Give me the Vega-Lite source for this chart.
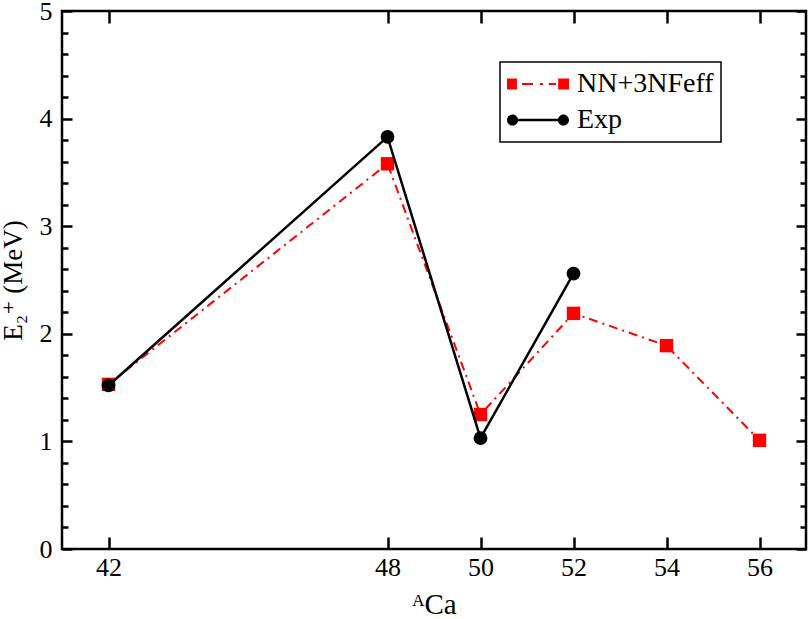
{
  "$schema": "https://vega.github.io/schema/vega-lite/v6.json",
  "width": 744,
  "height": 538,
  "autosize": {"type": "none"},
  "padding": {"left": 62, "top": 11, "right": 4, "bottom": 70},
  "background": "white",
  "config": {
    "font": "Liberation Serif, Times New Roman, DejaVu Serif, serif",
    "view": {"stroke": "black", "strokeWidth": 2.5},
    "axis": {
      "grid": false,
      "domain": false,
      "tickColor": "black",
      "tickWidth": 2.5,
      "labelColor": "black",
      "labelFont": "Liberation Serif, Times New Roman, DejaVu Serif, serif",
      "labelFontSize": 26,
      "titleFont": "Liberation Serif, Times New Roman, DejaVu Serif, serif",
      "titleFontSize": 29,
      "titleFontWeight": "normal",
      "titleColor": "black"
    }
  },
  "datasets": {
    "e2": [
      {"A": 42, "E": 1.53, "series": "NN+3NFeff"},
      {"A": 48, "E": 3.58, "series": "NN+3NFeff"},
      {"A": 50, "E": 1.25, "series": "NN+3NFeff"},
      {"A": 52, "E": 2.19, "series": "NN+3NFeff"},
      {"A": 54, "E": 1.89, "series": "NN+3NFeff"},
      {"A": 56, "E": 1.01, "series": "NN+3NFeff"},
      {"A": 42, "E": 1.52, "series": "Exp"},
      {"A": 48, "E": 3.83, "series": "Exp"},
      {"A": 50, "E": 1.03, "series": "Exp"},
      {"A": 52, "E": 2.56, "series": "Exp"}
    ]
  },
  "data": {"name": "e2"},
  "resolve": {"axis": {"x": "independent", "y": "independent"}},
  "layer": [
    {
      "transform": [{"filter": "datum.series === 'NN+3NFeff'"}],
      "mark": {"type": "line", "strokeWidth": 2, "strokeDash": [9, 5, 2, 5]},
      "encoding": {
        "x": {
          "field": "A", "type": "quantitative",
          "scale": {"domain": [41, 57], "nice": false, "zero": false},
          "axis": {"orient": "bottom", "values": [42, 48, 50, 52, 54, 56], "offset": -12, "tickSize": 12, "labelPadding": 5, "title": "ᴬCa", "titlePadding": 10}
        },
        "y": {
          "field": "E", "type": "quantitative",
          "scale": {"domain": [0, 5], "nice": false, "zero": true},
          "axis": {"orient": "left", "values": [0, 1, 2, 3, 4, 5], "offset": -10, "tickSize": 10, "labelPadding": 10, "title": "E₂⁺ (MeV)", "titleFontSize": 27, "titlePadding": 12}
        },
        "stroke": {
          "field": "series", "type": "nominal",
          "scale": {"domain": ["NN+3NFeff", "Exp"], "range": ["red", "black"]},
          "legend": {
            "orient": "none",
            "legendX": 438,
            "legendY": 51,
            "title": null,
            "strokeColor": "black",
            "fillColor": "white",
            "padding": 7,
            "symbolSize": 3844,
            "clipHeight": 30,
            "rowPadding": 6,
            "labelFont": "Liberation Serif, Times New Roman, DejaVu Serif, serif",
            "labelFontSize": 28,
            "labelColor": "black",
            "labelOffset": 8,
            "symbolStrokeWidth": 0,
            "encoding": {
              "symbols": {
                "shape": {"value": {"expr": "datum.value === 'Exp' ? 'M-1,0a0.18,0.18 0 1,0 0.36,0a0.18,0.18 0 1,0 -0.36,0Z M-0.64,-0.04H0.64V0.04H-0.64Z M0.64,0a0.18,0.18 0 1,0 0.36,0a0.18,0.18 0 1,0 -0.36,0Z' : 'M-1,-0.18H-0.68V0.18H-1Z M-0.52,-0.035H-0.16V0.035H-0.52Z M0.06,-0.035H0.16V0.035H0.06Z M0.35,-0.035H0.58V0.035H0.35Z M0.65,-0.18H1V0.18H0.65Z'"}},
                "fill": {"value": {"expr": "datum.value === 'Exp' ? 'black' : 'red'"}},
                "stroke": {"value": "transparent"},
                "opacity": {"value": 1}
              },
              "legend": {
                "strokeWidth": {"value": 1.5}
              }
            }
          }
        }
      }
    },
    {
      "transform": [{"filter": "datum.series === 'NN+3NFeff'"}],
      "mark": {"type": "square", "filled": true, "color": "red", "size": 180, "opacity": 1},
      "encoding": {
        "x": {"field": "A", "type": "quantitative", "axis": {"orient": "top", "values": [42, 48, 50, 52, 54, 56], "offset": -12, "tickSize": 12, "labels": false, "title": null}},
        "y": {"field": "E", "type": "quantitative", "axis": {"orient": "right", "values": [0, 1, 2, 3, 4, 5], "offset": -10, "tickSize": 10, "labels": false, "title": null}}
      }
    },
    {
      "transform": [{"filter": "datum.series === 'Exp'"}],
      "mark": {"type": "line", "strokeWidth": 2.5, "color": "black"},
      "encoding": {
        "x": {"field": "A", "type": "quantitative", "axis": null},
        "y": {"field": "E", "type": "quantitative", "axis": {"orient": "left", "values": [0.2, 0.4, 0.6, 0.8, 1.2, 1.4, 1.6, 1.8, 2.2, 2.4, 2.6, 2.8, 3.2, 3.4, 3.6, 3.8, 4.2, 4.4, 4.6, 4.8], "offset": -6, "tickSize": 6, "labels": false, "title": null}}
      }
    },
    {
      "transform": [{"filter": "datum.series === 'Exp'"}],
      "mark": {"type": "circle", "color": "black", "size": 190, "opacity": 1},
      "encoding": {
        "x": {"field": "A", "type": "quantitative", "axis": null},
        "y": {"field": "E", "type": "quantitative", "axis": {"orient": "right", "values": [0.2, 0.4, 0.6, 0.8, 1.2, 1.4, 1.6, 1.8, 2.2, 2.4, 2.6, 2.8, 3.2, 3.4, 3.6, 3.8, 4.2, 4.4, 4.6, 4.8], "offset": -6, "tickSize": 6, "labels": false, "title": null}}
      }
    }
  ]
}
